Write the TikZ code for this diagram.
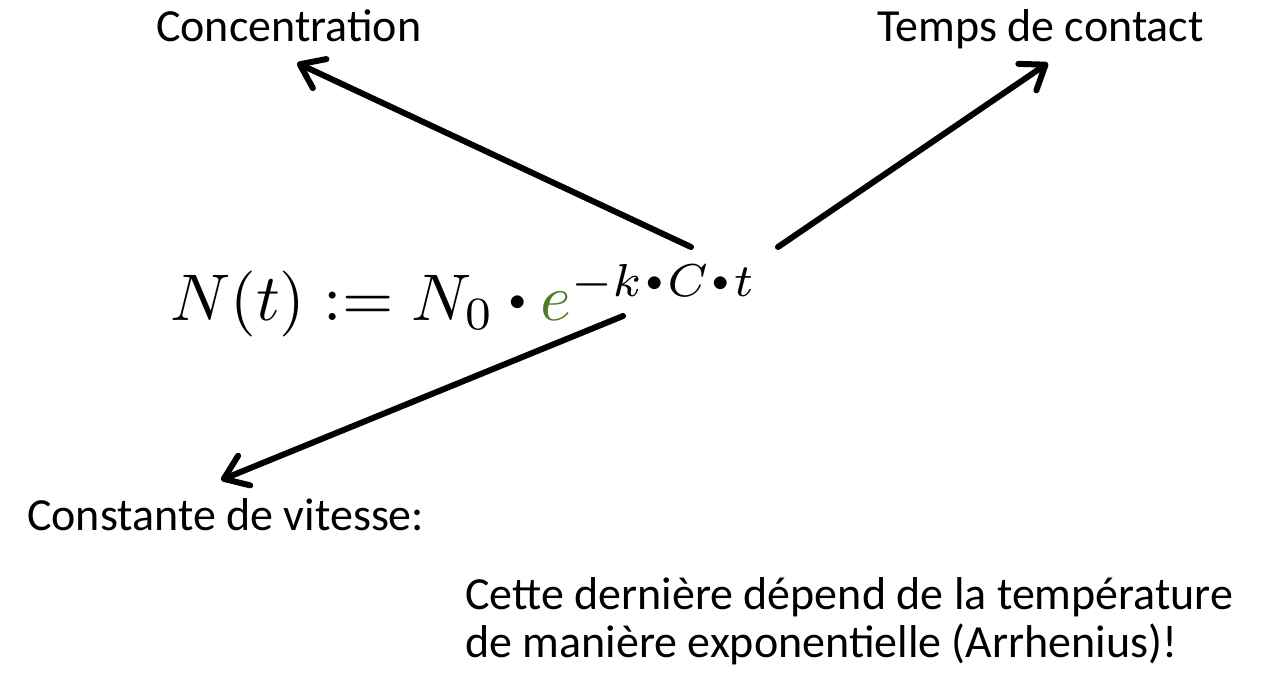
\documentclass[tikz,border=0pt]{standalone}
\usepackage{fontspec}
\setmainfont{Carlito}
\usepackage{xcolor}
\definecolor{expgreen}{HTML}{4F7A28}
\usepackage{tikz}
\usetikzlibrary{arrows.meta, positioning}
\tikzset{
  lbl/.style={font=\fontsize{46}{48}\selectfont, inner sep=0pt, anchor=base west},
  formula/.style={inner sep=0pt, anchor=base west},
  arr/.style={-{Straight Barb[length=22pt, width=32pt, round]},
              line width=6pt, line cap=round, draw=black}
}
\newcommand{\mdot}{\mathbin{\vcenter{\hbox{\scalebox{0.5}{$\bullet$}}}}}
\newcommand{\xdot}{\mkern1.5mu\mdot\mkern1.5mu}

\begin{document}
\begin{tikzpicture}[x=1pt, y=-1pt]

  \useasboundingbox (0,0) rectangle (1285,676);

  %% Labels
  \node[lbl] (conc)   at (156,42)  {Concentration};
  \node[lbl] (temps)  at (877,42)  {Temps de contact};
  \node[lbl] (const)  at (27,530)  {Constante de vitesse:};
  \node[lbl, align=left, anchor=north west] (arrh) at (465,577)
    {Cette dernière dépend de la température\\de manière exponentielle (Arrhenius)!};

  %% Formula
  \node[formula] (eq) at (170,320)
    {\scalebox{6.6}{$N(t)\mkern5mu{:}{=}\mkern5mu N_0\mdot{\color{expgreen}e}^{-k\xdot C\xdot t}$}};

  %% Arrow ends
  \coordinate (atC)     at (691,247);
  \coordinate (atT)     at (778,247);
  \coordinate (atK)     at (623,316);
  \coordinate (toConc)  at (297,63);
  \coordinate (toTemps) at (1048,63);
  \coordinate (toConst) at (221,480);

  \draw[arr] (atC) -- (toConc);
  \draw[arr] (atT) -- (toTemps);
  \draw[arr] (atK) -- (toConst);

\end{tikzpicture}
\end{document}
